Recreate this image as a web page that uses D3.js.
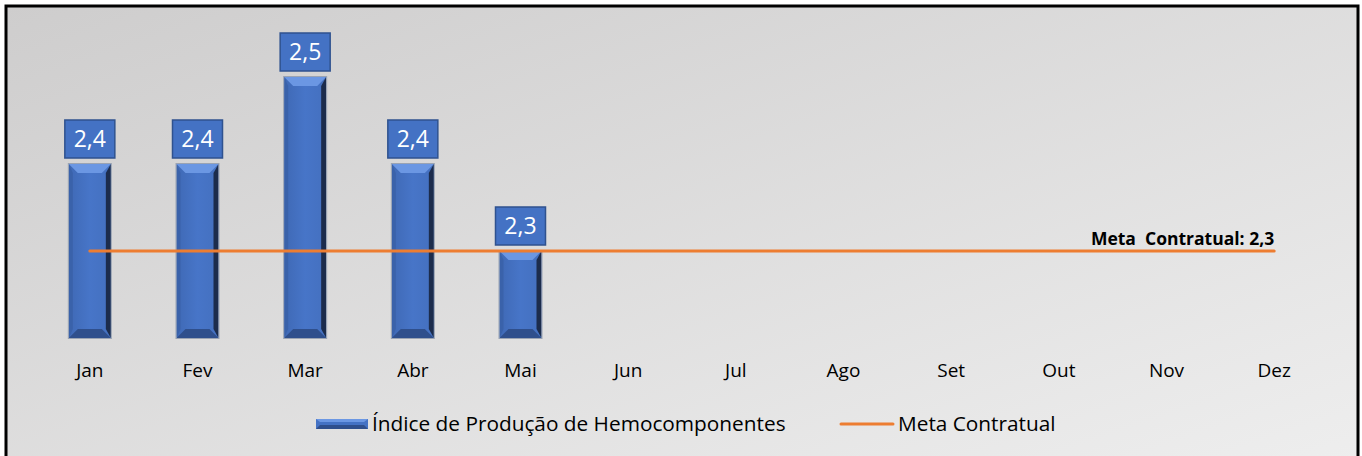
<!DOCTYPE html>
<html>
<head>
<meta charset="utf-8">
<script src="https://cdn.jsdelivr.net/npm/d3@7"></script>
<style>
  html, body { margin: 0; padding: 0; background: #fff; }
  svg { display: block; font-family: "Open Sans", "Noto Sans", sans-serif; }
</style>
</head>
<body>
<svg id="chart"></svg>
<script>
var w = 1362;
var h = 456;
// data
let months = ["Jan", "Fev", "Mar", "Abr", "Mai", "Jun", "Jul", "Ago", "Set", "Out", "Nov", "Dez"];
let indice = [2.4, 2.4, 2.5, 2.4, 2.3];
let labels = ["2,4", "2,4", "2,5", "2,4", "2,3"];
let meta = 2.3;
let metaLabel = "Meta  Contratual: 2,3";
let legendNames = ["Índice de Produção de Hemocomponentes", "Meta Contratual"];

var svg = d3.select("#chart")
    .attr("width", w)
    .attr("height", h);

var defs = svg.append("defs");
var bg = defs.append("linearGradient").attr("id", "bg")
    .attr("x1", "0").attr("y1", "0").attr("x2", "1").attr("y2", "1");
bg.append("stop").attr("offset", "0").attr("stop-color", "#cecdcd");
bg.append("stop").attr("offset", "1").attr("stop-color", "#eeeeee");

var barg = defs.append("linearGradient").attr("id", "barg")
    .attr("x1", "0").attr("y1", "0").attr("x2", "1").attr("y2", "0");
barg.append("stop").attr("offset", "0").attr("stop-color", "#3f69b5");
barg.append("stop").attr("offset", "0.5").attr("stop-color", "#4775c8");
barg.append("stop").attr("offset", "1").attr("stop-color", "#4470bf");

// background + frame
svg.append("rect")
    .attr("x", 6).attr("y", 6)
    .attr("width", 1352).attr("height", 460)
    .attr("fill", "url(#bg)")
    .attr("stroke", "#000")
    .attr("stroke-width", 3);

var x = d3.scaleBand()
    .domain(months)
    .range([36, 1328]);
var y = d3.scaleLinear()
    .domain([2.2, 2.5])
    .range([338, 77]);

var bw = 42;
var bev = 9;

// bars with bevel
var bars = svg.selectAll("g.bar")
    .data(indice)
    .enter()
    .append("g")
    .attr("class", "bar");

bars.each(function (d, i) {
    var g = d3.select(this);
    var x0 = x(months[i]) + x.bandwidth() / 2 - bw / 2;
    var x1 = x0 + bw;
    var y0 = y(d);
    var y1 = y(2.2);
    var b = Math.min(bev, (y1 - y0) / 3);
    g.append("rect")
        .attr("x", x0).attr("y", y0)
        .attr("width", bw).attr("height", y1 - y0)
        .attr("fill", "url(#barg)");
    // top bevel
    g.append("path")
        .attr("d", `M${x0},${y0} L${x1},${y0} L${x1 - b},${y0 + b} L${x0 + b},${y0 + b} Z`)
        .attr("fill", "#6b97e3");
    // bottom bevel
    g.append("path")
        .attr("d", `M${x0},${y1} L${x1},${y1} L${x1 - b},${y1 - b} L${x0 + b},${y1 - b} Z`)
        .attr("fill", "#2f4f8c");
    // left bevel
    g.append("path")
        .attr("d", `M${x0},${y0} L${x0 + 4},${y0 + b} L${x0 + 4},${y1 - b} L${x0},${y1} Z`)
        .attr("fill", "#3a62aa");
    // right bevel
    g.append("path")
        .attr("d", `M${x1},${y0} L${x1 - 5},${y0 + b} L${x1 - 5},${y1 - b} L${x1},${y1} Z`)
        .attr("fill", "#1c2c4c");
    g.append("rect")
        .attr("x", x0 - 0.5).attr("y", y0 - 0.5)
        .attr("width", bw + 1).attr("height", y1 - y0 + 1)
        .attr("fill", "none")
        .attr("stroke", "#9aa3b3")
        .attr("stroke-width", 1);
});

// meta line
svg.append("line")
    .attr("x1", x("Jan") + x.bandwidth() / 2)
    .attr("x2", x("Dez") + x.bandwidth() / 2)
    .attr("y1", y(meta)).attr("y2", y(meta))
    .attr("stroke", "#ed7d31")
    .attr("stroke-width", 3)
    .attr("stroke-linecap", "round");

svg.append("text")
    .attr("x", x("Dez") + x.bandwidth() / 2)
    .attr("y", y(meta) - 6)
    .attr("text-anchor", "end")
    .attr("font-size", 17.5)
    .attr("font-weight", "bold")
    .attr("fill", "#000")
    .style("white-space", "pre")
    .text(metaLabel);

// data labels
var lw = 50, lh = 38;
var lab = svg.selectAll("g.lab")
    .data(indice)
    .enter()
    .append("g")
    .attr("class", "lab");
lab.append("rect")
    .attr("x", (d, i) => x(months[i]) + x.bandwidth() / 2 - lw / 2)
    .attr("y", d => y(d) - 6 - lh)
    .attr("width", lw).attr("height", lh)
    .attr("fill", "#4472c4")
    .attr("stroke", "#2f528f")
    .attr("stroke-width", 1.5);
lab.append("text")
    .attr("x", (d, i) => x(months[i]) + x.bandwidth() / 2)
    .attr("y", d => y(d) - 6 - lh / 2 + 8)
    .attr("text-anchor", "middle")
    .attr("font-size", 23)
    .attr("fill", "#fff")
    .text((d, i) => labels[i]);

// x axis labels
svg.selectAll("text.xl")
    .data(months)
    .enter()
    .append("text")
    .attr("class", "xl")
    .attr("x", d => x(d) + x.bandwidth() / 2)
    .attr("y", 377)
    .attr("text-anchor", "middle")
    .attr("font-size", 19)
    .attr("fill", "#000")
    .text(d => d);

// legend
var lg = svg.append("g");
lg.append("rect")
    .attr("x", 316).attr("y", 419)
    .attr("width", 52).attr("height", 10)
    .attr("fill", "#4472c4");
lg.append("path")
    .attr("d", "M316,429 L368,429 L364,425 L320,425 Z")
    .attr("fill", "#2f4f8c");
lg.append("path")
    .attr("d", "M316,419 L368,419 L364,422 L320,422 Z")
    .attr("fill", "#6b97e3");
lg.append("text")
    .attr("x", 372).attr("y", 431)
    .attr("font-size", 20.8)
    .attr("fill", "#000")
    .text(legendNames[0]);
lg.append("line")
    .attr("x1", 841).attr("x2", 893)
    .attr("y1", 424).attr("y2", 424)
    .attr("stroke", "#ed7d31")
    .attr("stroke-width", 3)
    .attr("stroke-linecap", "round");
lg.append("text")
    .attr("x", 898).attr("y", 431)
    .attr("font-size", 20.8)
    .attr("fill", "#000")
    .text(legendNames[1]);
</script>
</body>
</html>
